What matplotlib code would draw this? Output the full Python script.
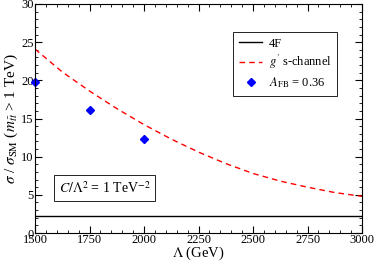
import numpy as np
import matplotlib
matplotlib.use('Agg')
import matplotlib.pyplot as plt
from matplotlib.ticker import MultipleLocator

matplotlib.rcParams['font.family'] = 'Liberation Serif'
matplotlib.rcParams['mathtext.fontset'] = 'stix'
matplotlib.rcParams['font.size'] = 9

# 4F contact interaction (flat)
lam_4f = [1500, 3000]
sig_4f = [2.2, 2.2]

# g' s-channel curve
lam_g = [1500, 1625, 1750, 1875, 2000, 2125, 2250, 2375, 2500, 2625, 2750, 2875, 3000]
sig_g = [24.1, 21.1, 18.6, 16.3, 14.2, 12.3, 10.6, 9.1, 7.8, 6.8, 6.0, 5.3, 4.8]

# A_FB = 0.36 points
lam_afb = [1500, 1750, 2000]
sig_afb = [19.8, 16.1, 12.3]

fig = plt.figure(figsize=(3.74, 2.62), dpi=100)
ax = fig.add_axes([35/374, 1 - 233/262, 327/374, 229/262])

ax.plot(lam_4f, sig_4f, color='black', lw=1.0, label='4F')
ax.plot(lam_g, sig_g, color='red', lw=1.0, ls=(0, (4, 3)), label=r"$g^{\prime}$ s-channel")
ax.plot(lam_afb, sig_afb, ls='none', marker='D', ms=4.5, color='blue', clip_on=False,
        label=r'$A_{\rm FB}$ = 0.36')

ax.set_xlim(1500, 3000)
ax.set_ylim(0, 30)
ax.xaxis.set_major_locator(MultipleLocator(250))
ax.xaxis.set_minor_locator(MultipleLocator(50))
ax.yaxis.set_major_locator(MultipleLocator(5))
ax.yaxis.set_minor_locator(MultipleLocator(1))
ax.tick_params(which='both', direction='in', top=True, right=True, labelsize=9, pad=1)
ax.tick_params(axis='x', pad=0.5)
ax.tick_params(which='major', length=5)
ax.tick_params(which='minor', length=2.5)

ax.set_xlabel(r'$\Lambda$ (GeV)', fontsize=10.5, labelpad=-1)
ax.set_ylabel(r'$\sigma$ / $\sigma_{\rm SM}$ ($m_{t\bar{t}}$ > 1 TeV)', fontsize=11, labelpad=1)

leg = ax.legend(loc='upper left', bbox_to_anchor=((233 - 35)/327, (233 - 32)/229), fontsize=9,
                numpoints=1, fancybox=False, edgecolor='black', framealpha=1, handlelength=1.9,
                borderpad=0.45, labelspacing=0.3, handletextpad=0.5, borderaxespad=0)
leg.get_frame().set_linewidth(0.6)

ax.text(0.072, 0.175, r'$C/\Lambda^2$ = 1 TeV$^{-2}$', transform=ax.transAxes, fontsize=10,
        bbox=dict(boxstyle='square,pad=0.35', fc='white', ec='black', lw=0.6))

plt.savefig('out.png', dpi=100)
